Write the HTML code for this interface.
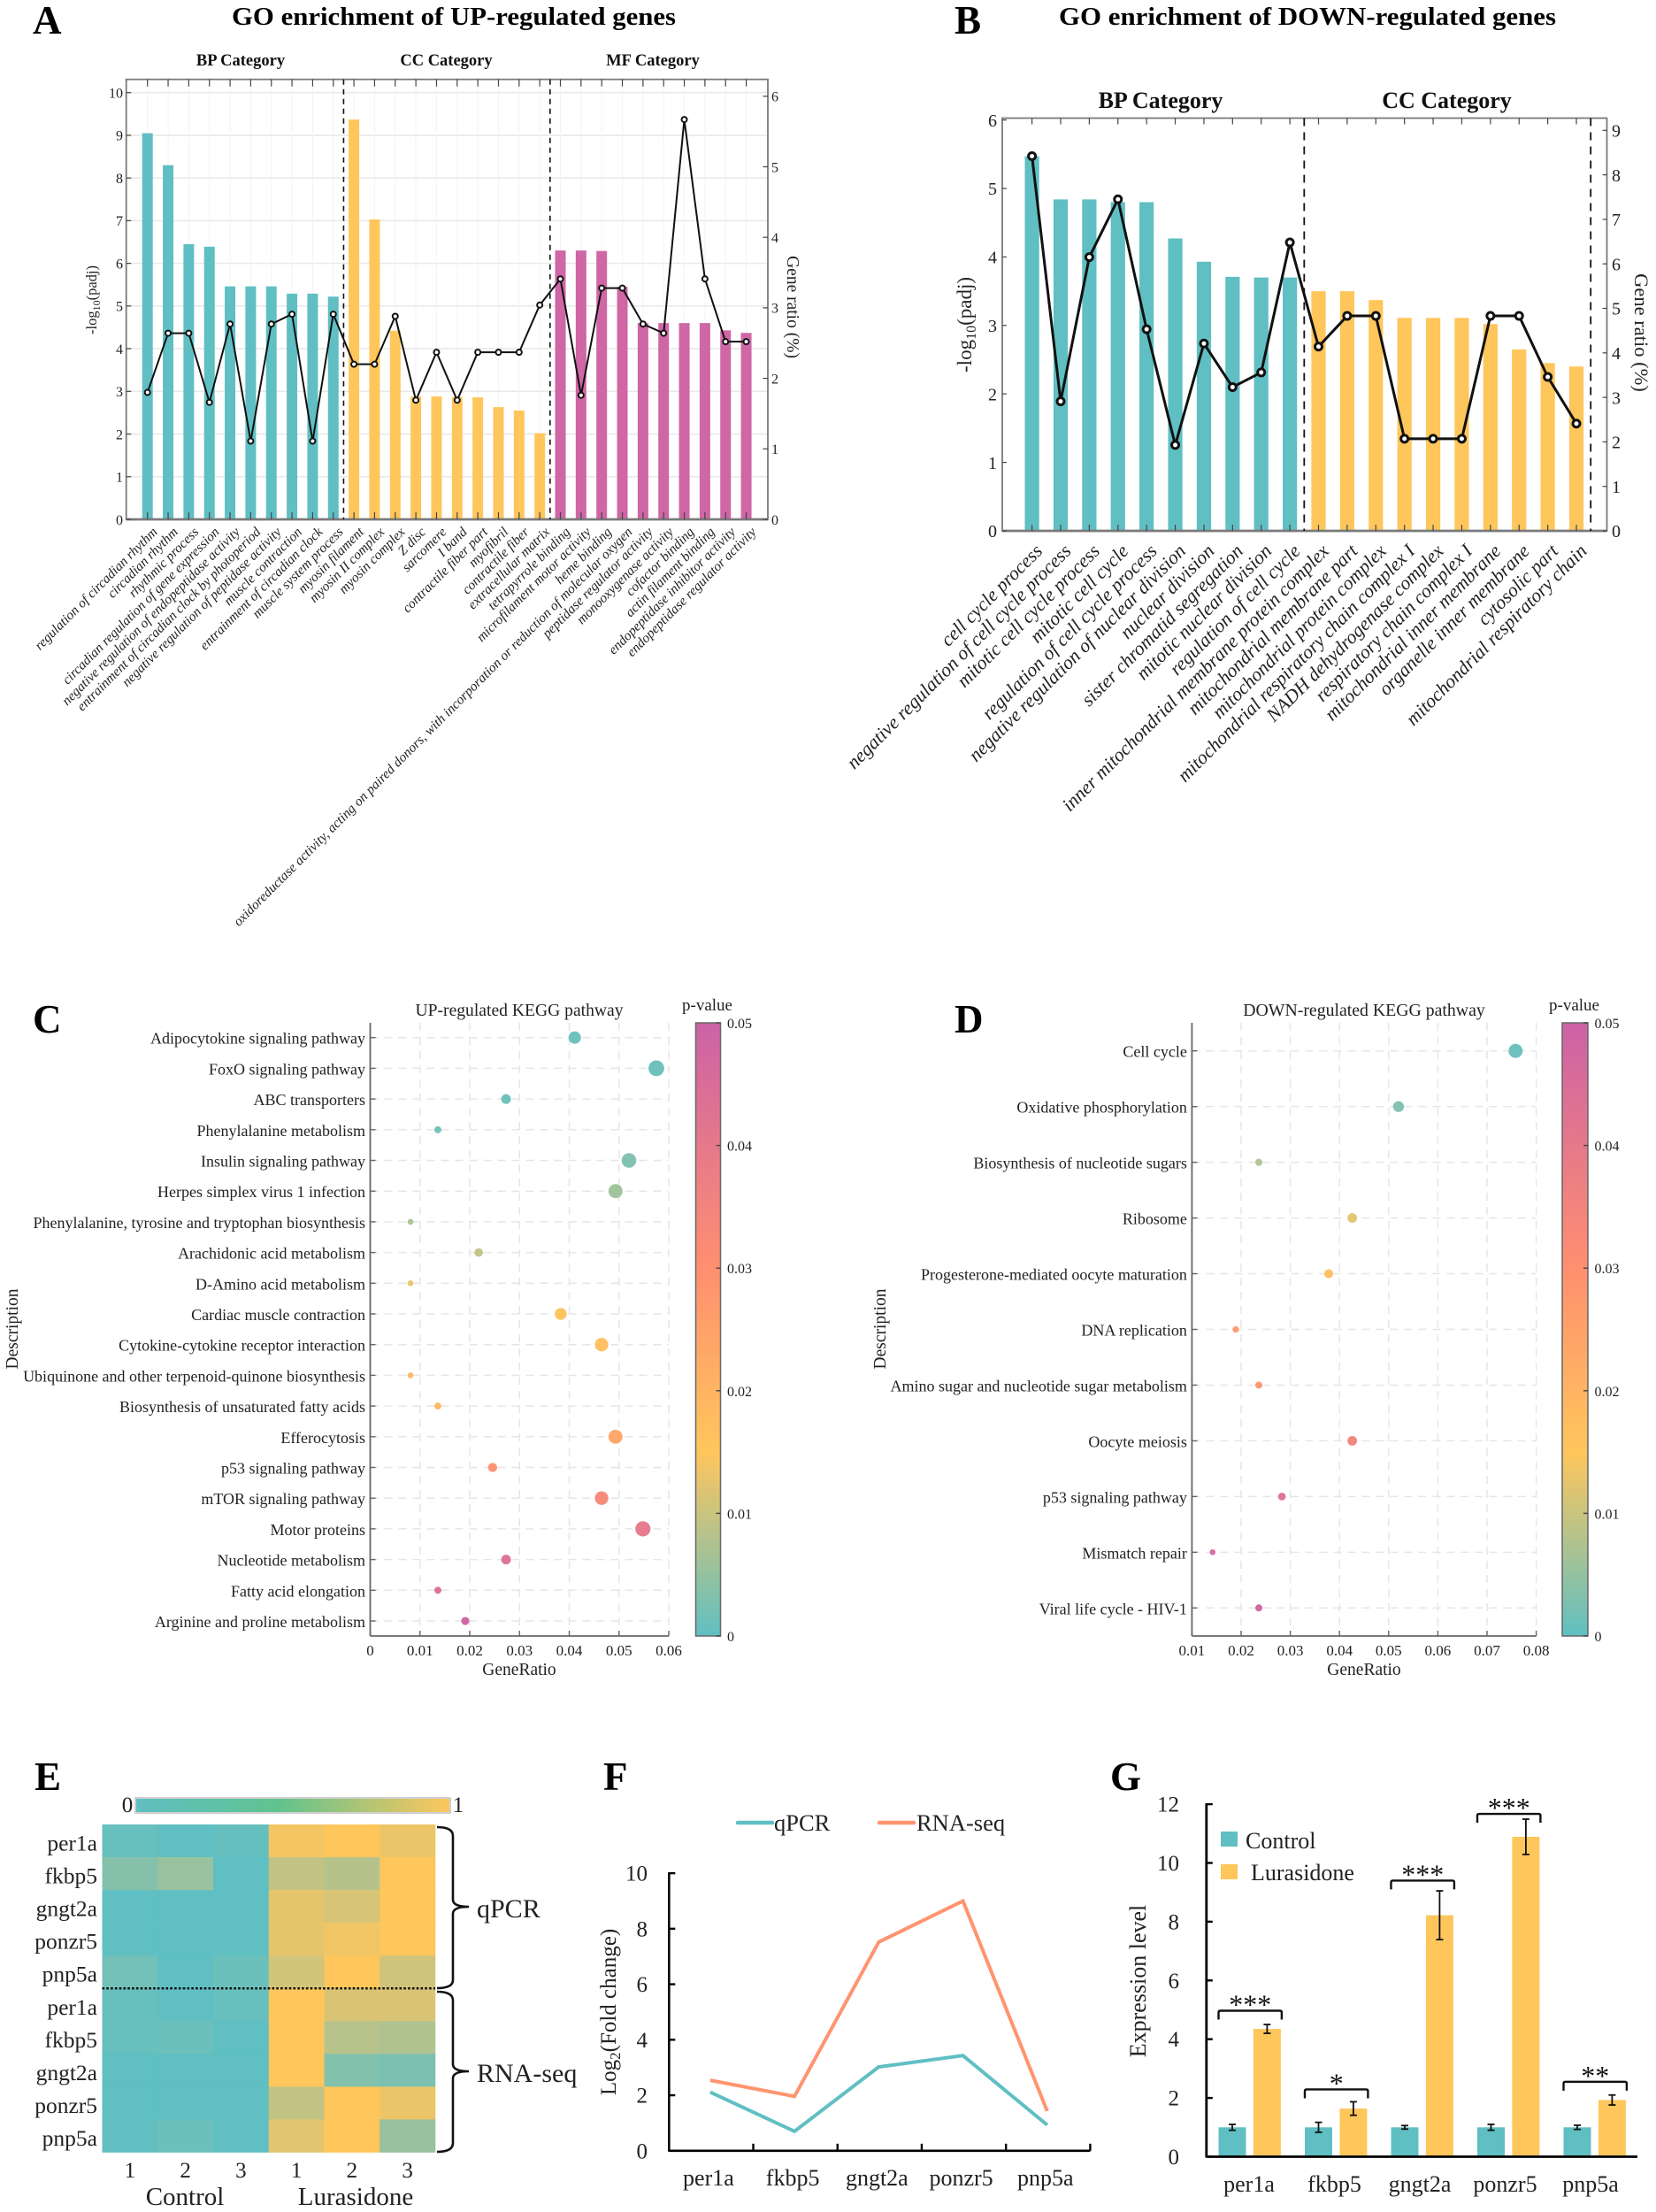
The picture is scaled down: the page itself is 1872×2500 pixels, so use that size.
<!DOCTYPE html>
<html lang="en">
<head>
<meta charset="utf-8">
<title>Lurasidone transcriptome figure</title>
<style>
html,body{margin:0;padding:0;background:#fff}
svg{display:block}
text{font-family:"Liberation Serif",serif;fill:#222}
</style>
</head>
<body>
<svg id="fig" xmlns="http://www.w3.org/2000/svg" width="1872" height="2500" viewBox="0 0 1872 2500">
<defs>
<linearGradient id="pv-grad" x1="0" y1="1" x2="0" y2="0">
<stop offset="0" stop-color="#5FBFC3"/><stop offset="0.3" stop-color="#FFC65C"/><stop offset="0.6" stop-color="#FF8F6F"/><stop offset="1" stop-color="#CC62A6"/>
</linearGradient>
<linearGradient id="heat-grad" x1="0" y1="0" x2="1" y2="0">
<stop offset="0" stop-color="#5FBFC3"/><stop offset="0.45" stop-color="#5FC38F"/><stop offset="1" stop-color="#FFC65C"/>
</linearGradient>
</defs>

<g id="panel-a">
<text x="37" y="38" font-size="45" font-weight="bold" style="fill:#000">A</text>
<text x="262" y="28" font-size="28" font-weight="bold" textLength="502" lengthAdjust="spacingAndGlyphs" style="fill:#000">GO enrichment of UP-regulated genes</text>
<text transform="translate(109 339) rotate(-90)" text-anchor="middle" font-size="16.5">-log<tspan font-size="12" dy="4">10</tspan><tspan dy="-4">(padj)</tspan></text>
<text transform="translate(890 347) rotate(90)" text-anchor="middle" font-size="19.5">Gene ratio (%)</text>
</g>

<g id="panel-b">
<text x="1079" y="38" font-size="45" font-weight="bold" style="fill:#000">B</text>
<text x="1197" y="28" font-size="28" font-weight="bold" textLength="562" lengthAdjust="spacingAndGlyphs" style="fill:#000">GO enrichment of DOWN-regulated genes</text>
<text transform="translate(1098 367) rotate(-90)" text-anchor="middle" font-size="23">-log<tspan font-size="16" dy="5">10</tspan><tspan dy="-5">(padj)</tspan></text>
<text transform="translate(1848 376) rotate(90)" text-anchor="middle" font-size="22.5">Gene ratio (%)</text>
</g>

<g id="panel-c">
<text x="37" y="1167" font-size="45" font-weight="bold" style="fill:#000">C</text>
<text x="587" y="1148" text-anchor="middle" font-size="19.6">UP-regulated KEGG pathway</text>
<text x="771" y="1142" font-size="19">p-value</text>
<text x="587" y="1893" text-anchor="middle" font-size="19.5">GeneRatio</text>
<text transform="translate(20 1502) rotate(-90)" text-anchor="middle" font-size="19.5">Description</text>
</g>

<g id="panel-d">
<text x="1079" y="1167" font-size="45" font-weight="bold" style="fill:#000">D</text>
<text x="1542" y="1148" text-anchor="middle" font-size="19.8">DOWN-regulated KEGG pathway</text>
<text x="1751" y="1142" font-size="19">p-value</text>
<text x="1542" y="1893" text-anchor="middle" font-size="19.5">GeneRatio</text>
<text transform="translate(1001 1502) rotate(-90)" text-anchor="middle" font-size="19.5">Description</text>
</g>

<g id="panel-e">
<text x="39" y="2023" font-size="45" font-weight="bold" style="fill:#000">E</text>
<rect x="153" y="2032" width="356" height="17" fill="url(#heat-grad)" stroke="#cfcfcf" stroke-width="2"/>
<text x="144" y="2048" text-anchor="middle" font-size="25">0</text>
<text x="518" y="2048" text-anchor="middle" font-size="25">1</text>
<path d="M494 2065 Q512 2065 512 2075 L512 2147 Q512 2155 530 2155 Q512 2155 512 2163 L512 2238 Q512 2247 494 2247" fill="none" stroke="#111" stroke-width="2.6"/>
<path d="M494 2251 Q512 2251 512 2261 L512 2333 Q512 2341 530 2341 Q512 2341 512 2349 L512 2422 Q512 2432 494 2432" fill="none" stroke="#111" stroke-width="2.6"/>
<text x="539" y="2167" font-size="30">qPCR</text>
<text x="539" y="2353" font-size="30">RNA-seq</text>
<text x="209" y="2492" text-anchor="middle" font-size="29">Control</text>
<text x="402" y="2492" text-anchor="middle" font-size="29">Lurasidone</text>
</g>

<g id="panel-f">
<text x="682" y="2023" font-size="45" font-weight="bold" style="fill:#000">F</text>
<line x1="834" y1="2060" x2="873" y2="2060" stroke="#5FBFC3" stroke-width="4.5" stroke-linecap="round"/>
<text x="875" y="2069" font-size="26.5">qPCR</text>
<line x1="994" y1="2060" x2="1033" y2="2060" stroke="#FF946F" stroke-width="4.5" stroke-linecap="round"/>
<text x="1036" y="2069" font-size="26.5">RNA-seq</text>
<text transform="translate(696 2274) rotate(-90)" text-anchor="middle" font-size="25">Log<tspan font-size="17" dy="5">2</tspan><tspan dy="-5">(Fold change)</tspan></text>
</g>

<g id="panel-g">
<text x="1255" y="2023" font-size="45" font-weight="bold" style="fill:#000">G</text>
<rect x="1380" y="2070" width="19" height="17" fill="#5FBFC3"/>
<text x="1408" y="2089" font-size="26">Control</text>
<rect x="1380" y="2107" width="19" height="17" fill="#FFC65C"/>
<text x="1414" y="2125" font-size="26">Lurasidone</text>
<text transform="translate(1295 2239) rotate(-90)" text-anchor="middle" font-size="26">Expression level</text>
</g>
</svg>

<script>
// ---------- Panel A data ----------
const upLabels = ["regulation of circadian rhythm","circadian rhythm","rhythmic process","circadian regulation of gene expression","negative regulation of endopeptidase activity","entrainment of circadian clock by photoperiod","negative regulation of peptidase activity","muscle contraction","entrainment of circadian clock","muscle system process","myosin filament","myosin II complex","myosin complex","Z disc","sarcomere","I band","contractile fiber part","myofibril","contractile fiber","extracellular matrix","tetrapyrrole binding","microfilament motor activity","heme binding","oxidoreductase activity, acting on paired donors, with incorporation or reduction of molecular oxygen","peptidase regulator activity","monooxygenase activity","cofactor binding","actin filament binding","endopeptidase inhibitor activity","endopeptidase regulator activity"];
const upCategory = ["BP","BP","BP","BP","BP","BP","BP","BP","BP","BP","CC","CC","CC","CC","CC","CC","CC","CC","CC","CC","MF","MF","MF","MF","MF","MF","MF","MF","MF","MF"];
const upPadj = [9.05,8.3,6.45,6.39,5.46,5.46,5.46,5.29,5.29,5.22,9.37,7.03,4.42,2.88,2.88,2.87,2.86,2.63,2.55,2.02,6.3,6.3,6.29,5.45,4.6,4.6,4.6,4.6,4.43,4.37];
const upRatio = [1.80,2.64,2.64,1.66,2.77,1.11,2.77,2.91,1.11,2.91,2.20,2.20,2.88,1.69,2.37,1.69,2.37,2.37,2.37,3.04,3.41,1.76,3.28,3.28,2.77,2.64,5.67,3.41,2.52,2.52];
const upLeftTicks = [0,1,2,3,4,5,6,7,8,9,10];
const upRightTicks = [0,1,2,3,4,5,6];

// ---------- Panel B data ----------
const downLabels = ["cell cycle process","negative regulation of cell cycle process","mitotic cell cycle process","mitotic cell cycle","regulation of cell cycle process","negative regulation of nuclear division","nuclear division","sister chromatid segregation","mitotic nuclear division","regulation of cell cycle","inner mitochondrial membrane protein complex","mitochondrial membrane part","mitochondrial protein complex","mitochondrial respiratory chain complex I","NADH dehydrogenase complex","respiratory chain complex I","mitochondrial inner membrane","organelle inner membrane","cytosolic part","mitochondrial respiratory chain"];
const downCategory = ["BP","BP","BP","BP","BP","BP","BP","BP","BP","BP","CC","CC","CC","CC","CC","CC","CC","CC","CC","CC"];
const downPadj = [5.47,4.84,4.84,4.8,4.8,4.27,3.93,3.71,3.7,3.7,3.5,3.5,3.37,3.11,3.11,3.11,3.02,2.65,2.45,2.4];
const downRatio = [8.42,2.91,6.15,7.45,4.53,1.93,4.21,3.23,3.56,6.48,4.14,4.83,4.83,2.07,2.07,2.07,4.83,4.83,3.46,2.41];
const downLeftTicks = [0,1,2,3,4,5,6];
const downRightTicks = [0,1,2,3,4,5,6,7,8,9];

// ---------- Panel C data ----------
const keggUpNames = ["Adipocytokine signaling pathway","FoxO signaling pathway","ABC transporters","Phenylalanine metabolism","Insulin signaling pathway","Herpes simplex virus 1 infection","Phenylalanine, tyrosine and tryptophan biosynthesis","Arachidonic acid metabolism","D-Amino acid metabolism","Cardiac muscle contraction","Cytokine-cytokine receptor interaction","Ubiquinone and other terpenoid-quinone biosynthesis","Biosynthesis of unsaturated fatty acids","Efferocytosis","p53 signaling pathway","mTOR signaling pathway","Motor proteins","Nucleotide metabolism","Fatty acid elongation","Arginine and proline metabolism"];
const keggUpRatio = [0.0411,0.0575,0.0273,0.0136,0.052,0.0493,0.0081,0.0218,0.0081,0.0383,0.0465,0.0081,0.0136,0.0493,0.0246,0.0465,0.0548,0.0273,0.0136,0.0191];
const keggUpP = [0.001,0.001,0.001,0.002,0.003,0.006,0.007,0.009,0.013,0.016,0.017,0.019,0.019,0.024,0.030,0.033,0.040,0.043,0.045,0.049];
const keggUpXTicks = [0,0.01,0.02,0.03,0.04,0.05,0.06];
const keggUpXTickLabels = ["0","0.01","0.02","0.03","0.04","0.05","0.06"];

// ---------- Panel D data ----------
const keggDownNames = ["Cell cycle","Oxidative phosphorylation","Biosynthesis of nucleotide sugars","Ribosome","Progesterone-mediated oocyte maturation","DNA replication","Amino sugar and nucleotide sugar metabolism","Oocyte meiosis","p53 signaling pathway","Mismatch repair","Viral life cycle - HIV-1"];
const keggDownRatio = [0.0758,0.052,0.0236,0.0426,0.0378,0.0189,0.0236,0.0426,0.0283,0.0142,0.0236];
const keggDownP = [0.001,0.003,0.0075,0.012,0.017,0.027,0.028,0.035,0.043,0.047,0.049];
const keggDownXTicks = [0.01,0.02,0.03,0.04,0.05,0.06,0.07,0.08];
const keggDownXTickLabels = ["0.01","0.02","0.03","0.04","0.05","0.06","0.07","0.08"];

// p-value colorbar
const pvTicks = [0,0.01,0.02,0.03,0.04,0.05];
const pvTickLabels = ["0","0.01","0.02","0.03","0.04","0.05"];

// ---------- Panel E data ----------
const heatGenes = ["per1a","fkbp5","gngt2a","ponzr5","pnp5a","per1a","fkbp5","gngt2a","ponzr5","pnp5a"];
const heatColumns = ["1","2","3","1","2","3"];
const heatValues = [
 [0.05,0,0.04,0.93,1,0.88],
 [0.24,0.36,0,0.62,0.54,1],
 [0,0,0,0.84,0.75,1],
 [0,0,0,0.84,0.92,1],
 [0.12,0,0.08,0.72,1,0.7],
 [0.05,0,0.05,1,0.76,0.76],
 [0.05,0.08,0,1,0.55,0.5],
 [0,0,0,1,0.22,0.18],
 [0,0,0,0.62,1,0.88],
 [0.02,0.08,0,0.82,1,0.35]
];

// ---------- Panel F data ----------
const foldGenes = ["per1a","fkbp5","gngt2a","ponzr5","pnp5a"];
const foldQpcr = [2.11,0.70,3.02,3.43,0.93];
const foldRnaSeq = [2.54,1.96,7.52,9.0,1.43];
const foldTicks = [0,2,4,6,8,10];

// ---------- Panel G data ----------
const exprGenes = ["per1a","fkbp5","gngt2a","ponzr5","pnp5a"];
const exprControl = [1.0,1.0,1.0,1.0,1.0];
const exprLurasidone = [4.35,1.64,8.22,10.89,1.93];
const exprControlErr = [0.1,0.17,0.06,0.1,0.07];
const exprLurasidoneErr = [0.15,0.23,0.83,0.6,0.17];
const exprBracketLevel = [4.97,2.29,9.4,11.67,2.55];
const exprStars = ["***","*","***","***","**"];
const exprTicks = [0,2,4,6,8,10,12];

// ---------- helpers ----------
const NS = "http://www.w3.org/2000/svg";
function el(tag, attrs, parent){
  const e = document.createElementNS(NS, tag);
  for (const k in attrs) e.setAttribute(k, attrs[k]);
  parent.appendChild(e);
  return e;
}
function txt(parent, str, x, y, size, anchor, extra){
  const a = Object.assign({x:x, y:y, "font-size":size, "text-anchor":anchor || "start"}, extra || {});
  const t = el("text", a, parent);
  t.textContent = str;
  return t;
}
function hex(c){ return [parseInt(c.slice(1,3),16),parseInt(c.slice(3,5),16),parseInt(c.slice(5,7),16)]; }
function mix(a,b,t){
  const A = hex(a), B = hex(b);
  return "rgb(" + A.map((v,i)=>Math.round(v+(B[i]-v)*t)).join(",") + ")";
}
function pvColor(p){
  if (p <= 0.015) return mix("#5FBFC3","#FFC65C",p/0.015);
  if (p <= 0.03) return mix("#FFC65C","#FF8F6F",(p-0.015)/0.015);
  return mix("#FF8F6F","#CC62A6",Math.min(1,(p-0.03)/0.02));
}
const catColor = {BP:"#5FBFC3", CC:"#FFC65C", MF:"#CF66A5"};

// ---------- GO bar + line chart ----------
function goChart(c){
  const g = document.getElementById(c.panel);
  const yL = v => c.bottom - v * c.leftUnit;
  const yR = v => c.bottom - v * c.rightUnit;
  const xB = i => c.x0 + i * c.step;

  if (c.grid){
    c.leftTicks.forEach(v => {
      const l = el("line",{x1:c.left,x2:c.right,y1:yL(v),y2:yL(v),stroke:"#e9e9e9","stroke-width":1.6},g);
      
      
    });
    c.padj.forEach((v,i) => {
      const l = el("line",{x1:xB(i),x2:xB(i),y1:c.top,y2:c.bottom,stroke:"#f3f3f3","stroke-width":1},g);
      
      
    });
  }
  c.padj.forEach((v,i) => {
    const b = el("rect",{x:xB(i)-c.barW/2,y:yL(v),width:c.barW,height:c.bottom-yL(v),fill:catColor[c.category[i]]},g);
    
    
  });

  const frame = el("rect",{x:c.left,y:c.top,width:c.right-c.left,height:c.bottom-c.top,fill:"none",stroke:"#7a7a7a","stroke-width":1.8},g);
  
  
  const base = el("line",{x1:c.left,x2:c.right,y1:c.bottom,y2:c.bottom,stroke:"#7a7a7a","stroke-width":2.8},g);
  
  

  c.padj.forEach((v,i) => {
    const t1 = el("line",{x1:xB(i),x2:xB(i),y1:c.bottom,y2:c.bottom-c.tick,stroke:"#444","stroke-width":1.2},g);
    
    
    const t2 = el("line",{x1:xB(i),x2:xB(i),y1:c.top,y2:c.top+c.tick,stroke:"#444","stroke-width":1.2},g);
    
    
  });
  c.leftTicks.forEach(v => {
    const t = el("line",{x1:c.left,x2:c.left+c.tick*0.7,y1:yL(v),y2:yL(v),stroke:"#444","stroke-width":1.2},g);
    
    
    const lab = txt(g, String(v), c.leftLabelX, yL(v)+c.tickSize*0.36, c.tickSize, "end");
    
    
  });
  c.rightTicks.forEach(v => {
    const t = el("line",{x1:c.right,x2:c.right-c.tick*0.7,y1:yR(v),y2:yR(v),stroke:"#444","stroke-width":1.2},g);
    
    
    const lab = txt(g, String(v), c.rightLabelX, yR(v)+c.tickSize*0.36, c.tickSize, "start");
    
    
  });

  // separators between categories
  const seps = [];
  c.category.forEach((k,i) => { if (i > 0 && k !== c.category[i-1]) seps.push(i-0.5); });
  if (c.trailingSep) seps.push(c.category.length-0.5);
  seps.forEach(s => {
    const d = el("line",{x1:xB(s),x2:xB(s),y1:c.top,y2:c.bottom,stroke:"#111","stroke-width":c.sepW,"stroke-dasharray":c.sepDash},g);
    
    
  });

  const pts = c.ratio.map((v,i) => xB(i) + "," + yR(v)).join(" ");
  const line = el("polyline",{points:pts,fill:"none",stroke:"#111","stroke-width":c.lineW,"stroke-linejoin":"round"},g);
  
  
  c.ratio.forEach((v,i) => {
    const m = el("circle",{cx:xB(i),cy:yR(v),r:c.markR,fill:"#fff",stroke:"#111","stroke-width":c.lineW},g);
    
    
  });

  c.catTitles.forEach((ct,i) => {
    const t = txt(g, ct, c.catX[i], c.catY, c.catSize, "middle", {"font-weight":"bold",style:"fill:#111"});
    
    
  });

  c.labels.forEach((s,i) => {
    const ax = xB(i) + c.labelDx, ay = c.labelY;
    const t = txt(g, s, ax, ay, c.labelSize, "end", {"font-style":"italic",transform:"rotate(-45 "+ax+" "+ay+")"});
    
    
  });
}

goChart({panel:"panel-a",labels:upLabels,category:upCategory,padj:upPadj,ratio:upRatio,leftTicks:upLeftTicks,rightTicks:upRightTicks,
  left:142.7,right:868,top:89.7,bottom:587,leftUnit:48.23,rightUnit:79.7,x0:166.7,step:23.34,barW:12,tick:8,grid:true,
  leftLabelX:139,rightLabelX:872,tickSize:16,sepW:1.6,sepDash:"6 5",trailingSep:false,lineW:2,markR:3,
  catTitles:["BP Category","CC Category","MF Category"],catX:[272,504.5,738],catY:74,catSize:18.5,
  labelDx:12,labelY:602,labelSize:15.4});

goChart({panel:"panel-b",labels:downLabels,category:downCategory,padj:downPadj,ratio:downRatio,leftTicks:downLeftTicks,rightTicks:downRightTicks,
  left:1133,right:1816.5,top:133.5,bottom:600,leftUnit:77.4,rightUnit:50.3,x0:1166.6,step:32.39,barW:16.2,tick:7,grid:false,
  leftLabelX:1127,rightLabelX:1822,tickSize:20,sepW:1.8,sepDash:"9 7",trailingSep:true,lineW:3,markR:4,
  catTitles:["BP Category","CC Category"],catX:[1312,1635.5],catY:122,catSize:26,
  labelDx:13,labelY:624,labelSize:21.7});

// ---------- KEGG dot chart ----------
function dotChart(c){
  const g = document.getElementById(c.panel);
  const sx = v => c.left + (v-c.xMin)/(c.xMax-c.xMin)*(c.right-c.left);
  const sy = i => c.firstY + i*c.stepY;
  const pY = v => c.bottom - v/0.05*(c.bottom-c.top);

  c.xTicks.forEach(v => {
    const l = el("line",{x1:sx(v),x2:sx(v),y1:c.top,y2:c.bottom,stroke:"#e6e6e6","stroke-width":1.5,"stroke-dasharray":"9 7"},g);
    
    
  });
  c.names.forEach((n,i) => {
    const l = el("line",{x1:c.left,x2:c.right,y1:sy(i),y2:sy(i),stroke:"#e6e6e6","stroke-width":1.5,"stroke-dasharray":"9 7"},g);
    
    
  });
  const ya = el("line",{x1:c.left,x2:c.left,y1:c.top,y2:c.bottom,stroke:"#666","stroke-width":1.8},g);
  
  
  const xa = el("line",{x1:c.left,x2:c.right,y1:c.bottom,y2:c.bottom,stroke:"#666","stroke-width":1.8},g);
  
  

  c.xTicks.forEach((v,i) => {
    const t = el("line",{x1:sx(v),x2:sx(v),y1:c.bottom,y2:c.bottom-6,stroke:"#666","stroke-width":1.4},g);
    
    
    const lab = txt(g, c.xTickLabels[i], sx(v), c.bottom+22, 17, "middle");
    
    
  });
  c.names.forEach((n,i) => {
    const t = el("line",{x1:c.left,x2:c.left+6,y1:sy(i),y2:sy(i),stroke:"#666","stroke-width":1.4},g);
    
    
    const lab = txt(g, n, c.left-5.5, sy(i)+7, 18, "end");
    
    
    const d = el("circle",{cx:sx(c.ratio[i]),cy:sy(i),r:c.rBase+c.rSlope*c.ratio[i],fill:pvColor(c.p[i]),"fill-opacity":0.97},g);
    
    
  });

  const cb = el("rect",{x:c.cbX,y:c.top,width:c.cbW,height:c.bottom-c.top,fill:"url(#pv-grad)",stroke:"#666","stroke-width":1.5},g);
  
  
  pvTicks.forEach((v,i) => {
    const t = el("line",{x1:c.cbX+c.cbW-5,x2:c.cbX+c.cbW,y1:pY(v),y2:pY(v),stroke:"#444","stroke-width":1.4},g);
    
    
    const lab = txt(g, pvTickLabels[i], c.cbX+c.cbW+7.5, pY(v)+6, 16, "start");
    
    
  });
}

dotChart({panel:"panel-c",names:keggUpNames,ratio:keggUpRatio,p:keggUpP,xTicks:keggUpXTicks,xTickLabels:keggUpXTickLabels,
  left:418.5,right:756,top:1156,bottom:1849,xMin:0,xMax:0.06,firstY:1172.7,stepY:34.7,rBase:2.4,rSlope:113,cbX:786.5,cbW:28});
dotChart({panel:"panel-d",names:keggDownNames,ratio:keggDownRatio,p:keggDownP,xTicks:keggDownXTicks,xTickLabels:keggDownXTickLabels,
  left:1347.4,right:1736.6,top:1156,bottom:1849,xMin:0.01,xMax:0.08,firstY:1187.7,stepY:62.96,rBase:2.2,rSlope:76,cbX:1766,cbW:29});

// ---------- Heatmap ----------
(function(){
  const g = document.getElementById("panel-e");
  const left = 115.5, top = 2062, cw = 62.75, rh = 37.05;
  heatValues.forEach((row,r) => {
    row.forEach((v,k) => {
      const cell = el("rect",{x:left+k*cw,y:top+r*rh,width:cw+0.3,height:rh+0.3,fill:mix("#5FBFC3","#FFC65C",v)},g);
      
      
    });
    const lab = txt(g, heatGenes[r], 110, top+(r+0.5)*rh+11, 25.5, "end");
    
    
  });
  heatColumns.forEach((s,k) => {
    const lab = txt(g, s, left+(k+0.5)*cw, 2461, 25, "middle");
    
    
  });
  const dots = el("line",{x1:left,x2:left+6*cw,y1:top+5*rh,y2:top+5*rh,stroke:"#111","stroke-width":2.6,"stroke-dasharray":"2.6 2.2"},g);
  
  
})();

// ---------- Fold change lines ----------
(function(){
  const g = document.getElementById("panel-f");
  const left = 756.3, right = 1232.4, bottom = 2430.8, unit = 31.37;
  const band = (right-left)/foldGenes.length;
  const sx = i => left + (i+0.5)*band - 1;
  const sy = v => bottom - v*unit;
  const ya = el("line",{x1:left,x2:left,y1:sy(10)-1,y2:bottom+1,stroke:"#000","stroke-width":2.6},g);
  
  
  const xa = el("line",{x1:left,x2:right,y1:bottom,y2:bottom,stroke:"#000","stroke-width":2.6},g);
  
  
  foldTicks.forEach(v => {
    const t = el("line",{x1:left,x2:left+7,y1:sy(v),y2:sy(v),stroke:"#000","stroke-width":2.4},g);
    
    
    const lab = txt(g, String(v), 732, sy(v)+8.5, 25, "end");
    
    
  });
  foldGenes.forEach((s,i) => {
    const tx = left+(i+1)*band;
    const t = el("line",{x1:tx,x2:tx,y1:bottom,y2:bottom-8,stroke:"#000","stroke-width":2.4},g);
    
    
    const lab = txt(g, s, sx(i)-2, 2470, 26, "middle");
    
    
  });
  const l1 = el("polyline",{points:foldQpcr.map((v,i)=>sx(i)+","+sy(v)).join(" "),fill:"none",stroke:"#5FBFC3","stroke-width":4},g);
  
  
  const l2 = el("polyline",{points:foldRnaSeq.map((v,i)=>sx(i)+","+sy(v)).join(" "),fill:"none",stroke:"#FF946F","stroke-width":4},g);
  
  
})();

// ---------- Expression bars ----------
(function(){
  const g = document.getElementById("panel-g");
  const left = 1363.8, right = 1851, bottom = 2437.5, unit = 33.2;
  const firstCtrl = 1393, gap = 39.4, groupStep = 97.5, barW = 31;
  const sy = v => bottom - v*unit;
  const cx = i => firstCtrl + i*groupStep;
  function errBar(x, v, e){
    const s = el("line",{x1:x,x2:x,y1:sy(v+e),y2:sy(v-e),stroke:"#111","stroke-width":1.8},g);
    
    
    const a = el("line",{x1:x-4,x2:x+4,y1:sy(v+e),y2:sy(v+e),stroke:"#111","stroke-width":1.8},g);
    
    
    const b = el("line",{x1:x-4,x2:x+4,y1:sy(v-e),y2:sy(v-e),stroke:"#111","stroke-width":1.8},g);
    
    
  }
  exprGenes.forEach((s,i) => {
    const b1 = el("rect",{x:cx(i)-barW/2,y:sy(exprControl[i]),width:barW,height:bottom-sy(exprControl[i]),fill:"#5FBFC3"},g);
    
    
    const b2 = el("rect",{x:cx(i)+gap-barW/2,y:sy(exprLurasidone[i]),width:barW,height:bottom-sy(exprLurasidone[i]),fill:"#FFC65C"},g);
    
    
    errBar(cx(i), exprControl[i], exprControlErr[i]);
    errBar(cx(i)+gap, exprLurasidone[i], exprLurasidoneErr[i]);
    const ty = sy(exprBracketLevel[i]);
    const bx1 = cx(i)-barW/2, bx2 = cx(i)+gap+barW/2+1;
    const br = el("path",{d:"M"+bx1+" "+(ty+10)+" L"+bx1+" "+(ty+2)+" Q"+bx1+" "+ty+" "+(bx1+2)+" "+ty+" L"+(bx2-2)+" "+ty+" Q"+bx2+" "+ty+" "+bx2+" "+(ty+2)+" L"+bx2+" "+(ty+10),fill:"none",stroke:"#111","stroke-width":2.4},g);
    
    
    const st = txt(g, exprStars[i], (bx1+bx2)/2, ty+4, 32, "middle", {style:"fill:#111"});
    
    
    const lab = txt(g, s, cx(i)+19-i*1, 2477, 26, "middle");
    
    
  });
  const ya = el("line",{x1:left,x2:left,y1:sy(12)-1,y2:bottom+1,stroke:"#000","stroke-width":2.8},g);
  
  
  const xa = el("line",{x1:left,x2:right,y1:bottom,y2:bottom,stroke:"#000","stroke-width":2.8},g);
  
  
  exprTicks.forEach(v => {
    const t = el("line",{x1:left,x2:left+7,y1:sy(v),y2:sy(v),stroke:"#000","stroke-width":2.4},g);
    
    
    const lab = txt(g, String(v), 1333, sy(v)+8.5, 25, "end");
    
    
  });
})();
</script>
</body>
</html>
